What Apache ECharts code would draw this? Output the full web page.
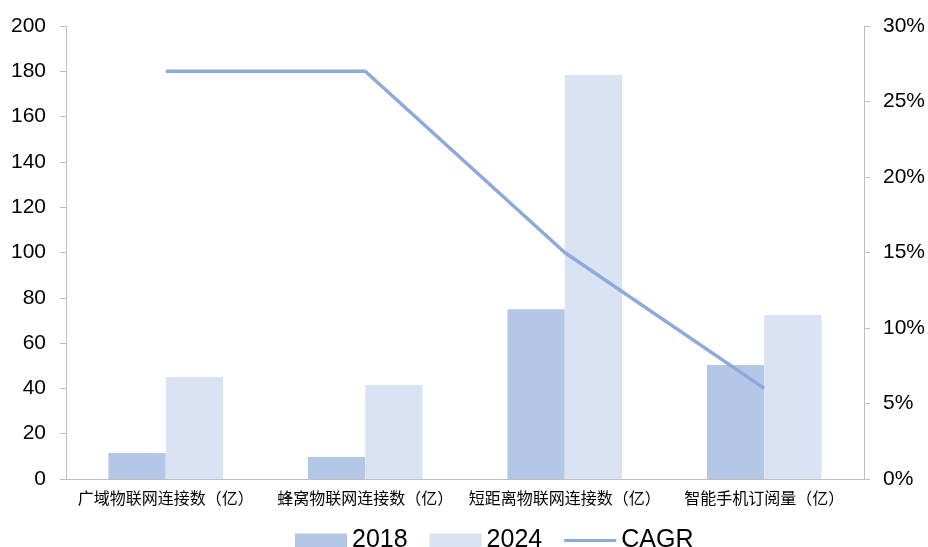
<!DOCTYPE html>
<html>
<head>
<meta charset="utf-8">
<script src="https://cdn.jsdelivr.net/npm/echarts@6/dist/echarts.min.js"></script>
<style>
  html, body { margin: 0; padding: 0; background: #fff; }
  #main { width: 928px; height: 547px; }
</style>
</head>
<body>
<div id="main"></div>
<script>
var categories = ['广域物联网连接数（亿）', '蜂窝物联网连接数（亿）', '短距离物联网连接数（亿）', '智能手机订阅量（亿）'];
var data2018 = [11.5, 9.7, 75, 50.3];
var data2024 = [45, 41.5, 178.4, 72.4];
var cagr = [27, 27, 15, 6];

var axisColor = '#bfbfbf';
var labelStyle = {
  color: '#000',
  fontSize: 21,
  fontFamily: 'Liberation Sans, Arial, sans-serif'
};

var option = {
  animation: false,
  color: ['#b4c7e7', '#dae3f3', '#8eaadc'],
  grid: {
    left: 66,
    right: 63,
    top: 26,
    bottom: 68
  },
  legend: {
    top: 528,
    left: 295,
    padding: 0,
    itemWidth: 52,
    itemHeight: 14,
    itemGap: 22,
    textStyle: {
      color: '#000',
      fontSize: 25,
      fontFamily: 'Liberation Sans, Arial, sans-serif'
    },
    data: [
      {name: '2018', icon: 'rect'},
      {name: '2024', icon: 'rect'},
      {name: 'CAGR', icon: 'path://M0,0h52v3h-52z'}
    ]
  },
  xAxis: {
    type: 'category',
    data: categories,
    axisLine: { lineStyle: { color: axisColor } },
    axisTick: { length: 6, lineStyle: { color: axisColor } },
    axisLabel: {
      interval: 0,
      color: '#000',
      fontSize: 16,
      margin: 11,
      fontFamily: 'Noto Sans CJK SC, sans-serif'
    }
  },
  yAxis: [
    {
      type: 'value',
      min: 0,
      max: 200,
      interval: 20,
      splitLine: { show: false },
      axisLine: { show: true, lineStyle: { color: axisColor } },
      axisTick: { show: true, length: 6, lineStyle: { color: axisColor } },
      axisLabel: Object.assign({ margin: 20 }, labelStyle)
    },
    {
      type: 'value',
      min: 0,
      max: 30,
      interval: 5,
      splitLine: { show: false },
      axisLine: { show: true, lineStyle: { color: axisColor } },
      axisTick: { show: true, length: 6, lineStyle: { color: axisColor } },
      axisLabel: Object.assign({ margin: 19, formatter: '{value}%' }, labelStyle)
    }
  ],
  series: [
    {
      name: '2018',
      type: 'bar',
      data: data2018,
      barGap: '0%',
      barCategoryGap: '42.5%'
    },
    {
      name: '2024',
      type: 'bar',
      data: data2024,
      barGap: '0%',
      barCategoryGap: '42.5%'
    },
    {
      name: 'CAGR',
      type: 'line',
      yAxisIndex: 1,
      data: cagr,
      symbol: 'none',
      lineStyle: { width: 3.5, color: '#8eaadc' }
    }
  ]
};

var myChart = echarts.init(document.getElementById('main'));
myChart.setOption(option);
</script>
</body>
</html>
